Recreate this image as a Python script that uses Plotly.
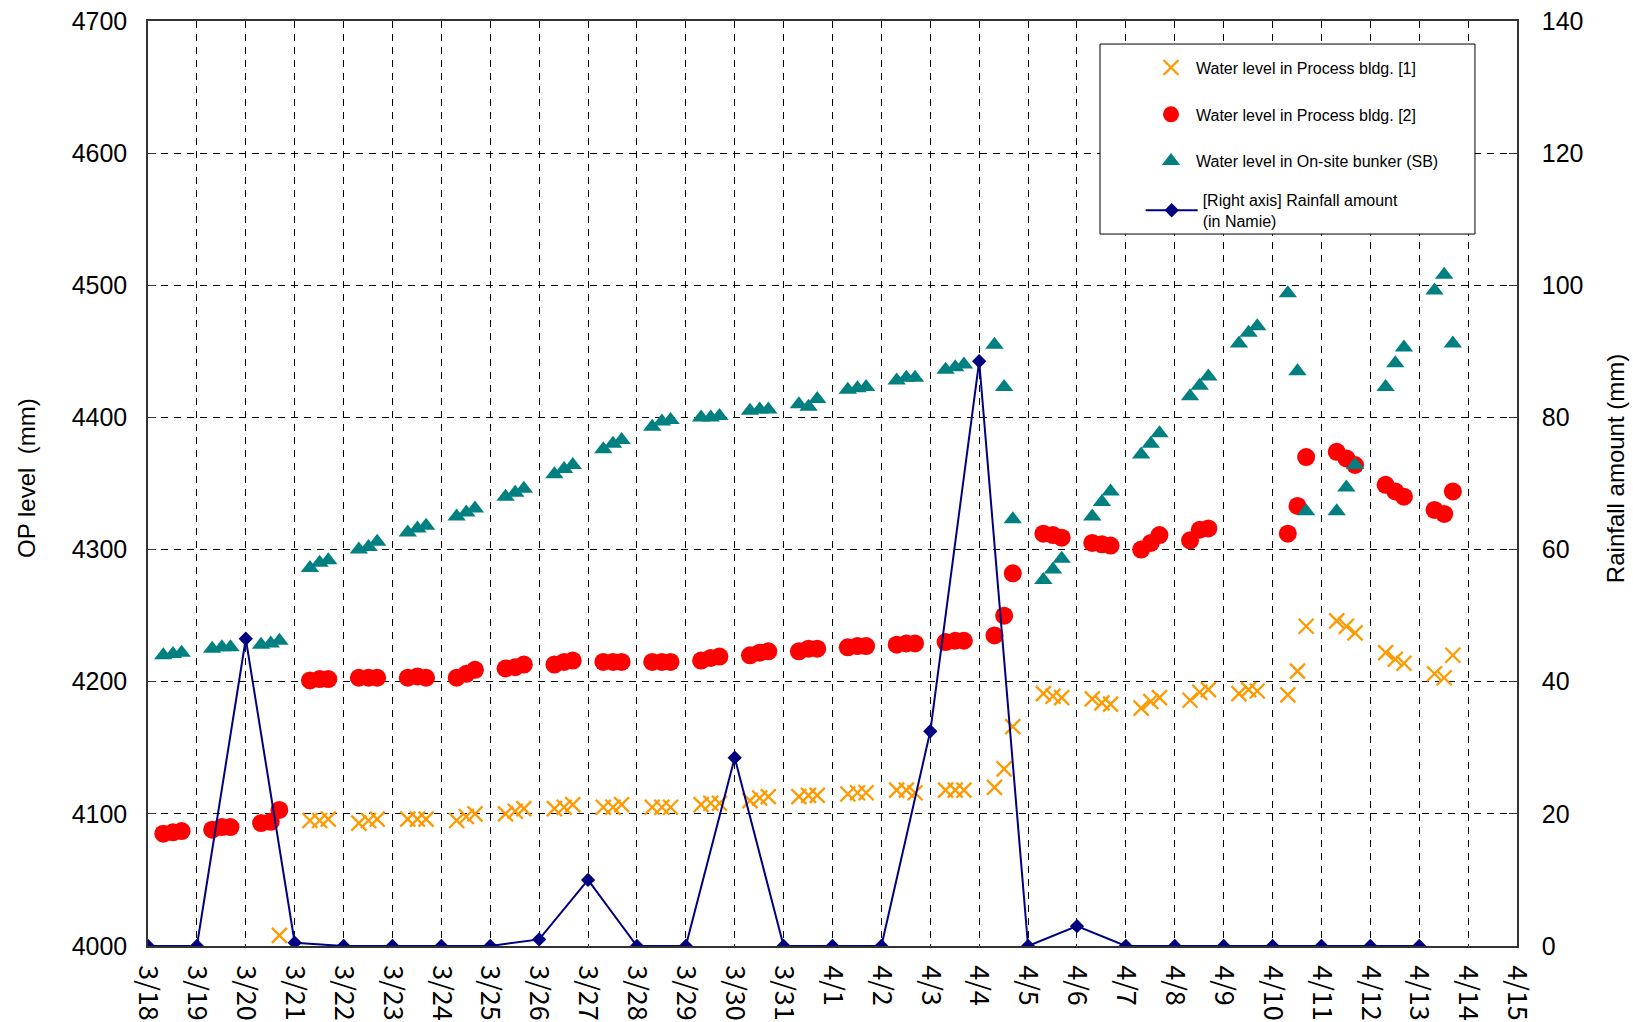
import plotly.graph_objects as go

# Measurement days and the three reading times used on each day
days = [
    "2011-03-18", "2011-03-19", "2011-03-20", "2011-03-21", "2011-03-22",
    "2011-03-23", "2011-03-24", "2011-03-25", "2011-03-26", "2011-03-27",
    "2011-03-28", "2011-03-29", "2011-03-30", "2011-03-31", "2011-04-01",
    "2011-04-02", "2011-04-03", "2011-04-04", "2011-04-05", "2011-04-06",
    "2011-04-07", "2011-04-08", "2011-04-09", "2011-04-10", "2011-04-11",
    "2011-04-12", "2011-04-13",
]
reading_times = ["07:30", "12:15", "16:30"]

# Water level in Process bldg. [1] (OP mm), three readings per day
level_bldg1 = [
    [None, None, None], [None, None, None], [None, None, 4008],
    [4095, 4095, 4096], [4093, 4095, 4096], [4096, 4096, 4096],
    [4095, 4098, 4100], [4100, 4102, 4104], [4104, 4105, 4107],
    [4105, 4105, 4107], [4105, 4105, 4105], [4107, 4108, 4108],
    [4110, 4112, 4113], [4113, 4114, 4114], [4115, 4116, 4116],
    [4118, 4118, 4116], [4118, 4118, 4118], [4120, 4134, 4166],
    [4191, 4189, 4188], [4187, 4184, 4183], [4180, 4185, 4188],
    [4186, 4192, 4194], [4191, 4194, 4193], [4190, 4208, 4242],
    [4246, 4242, 4237], [4222, 4217, 4214], [4206, 4203, 4220],
]

# Water level in Process bldg. [2] (OP mm)
level_bldg2 = [
    [4085, 4086, 4087], [4088, 4090, 4090], [4093, 4094, 4103],
    [4201, 4202, 4202], [4203, 4203, 4203], [4203, 4204, 4203],
    [4203, 4206, 4209], [4210, 4211, 4213], [4213, 4215, 4216],
    [4215, 4215, 4215], [4215, 4215, 4215], [4216, 4218, 4219],
    [4220, 4222, 4223], [4223, 4225, 4225], [4226, 4227, 4227],
    [4228, 4229, 4229], [4230, 4231, 4231], [4235, 4250, 4282],
    [4312, 4311, 4309], [4305, 4304, 4303], [4300, 4305, 4311],
    [4307, 4315, 4316], [None, None, None], [4312, 4333, 4370],
    [4374, 4369, 4364], [4349, 4344, 4340], [4330, 4327, 4344],
]

# Water level in On-site bunker (SB) (OP mm)
level_bunker = [
    [4220, 4221, 4222], [4225, 4226, 4226], [4228, 4229, 4231],
    [4286, 4290, 4292], [4300, 4302, 4306], [4313, 4316, 4318],
    [4325, 4328, 4331], [4340, 4343, 4346], [4357, 4361, 4364],
    [4376, 4380, 4383], [4393, 4397, 4398], [4400, 4400, 4401],
    [4405, 4406, 4406], [4410, 4408, 4414], [4421, 4422, 4423],
    [4428, 4430, 4430], [4436, 4438, 4440], [4455, 4423, 4323],
    [4277, 4285, 4293], [4325, 4336, 4344], [4372, 4380, 4388],
    [4416, 4424, 4431], [4456, 4464, 4469], [4494, 4435, 4329],
    [4329, 4347, 4364], [4423, 4441, 4453], [4496, 4508, 4456],
]

# Daily rainfall in Namie (mm), right axis
rainfall = [
    0, 0, 46.5, 0.5, 0, 0, 0, 0, 1, 10, 0, 0, 28.5, 0,
    0, 0, 32.5, 88.5, 0, 3, 0, 0, 0, 0, 0, 0, 0,
]

reading_x = [f"{d} {t}" for d in days for t in reading_times]


def flatten(rows):
    return [v for row in rows for v in row]


TEXT_FONT = "Liberation Sans, Arial, sans-serif"
GRID_DASH = "7px,6px"
LEGEND_FONT = dict(family=TEXT_FONT, size=16, color="#000000")
TITLE_FONT = dict(family=TEXT_FONT, size=24, color="#000000")

fig = go.Figure()

fig.add_trace(go.Scatter(
    x=reading_x, y=flatten(level_bldg1), mode="markers",
    name="Water level in Process bldg. [1]", legendgroup="a",
    marker=dict(symbol="x-thin", size=15, color="#FF9900",
                line=dict(color="#FF9900", width=2.3)),
))
fig.add_trace(go.Scatter(
    x=reading_x, y=flatten(level_bldg2), mode="markers",
    name="Water level in Process bldg. [2]", legendgroup="b",
    marker=dict(symbol="circle", size=18, color="#FF0000"),
))
fig.add_trace(go.Scatter(
    x=reading_x, y=flatten(level_bunker), mode="markers",
    name="Water level in On-site bunker (SB)", legendgroup="c",
    marker=dict(symbol="triangle-up", size=16, color="#008080"),
))
fig.add_trace(go.Scatter(
    x=days, y=rainfall, mode="lines+markers", yaxis="y2",
    name="[Right axis] Rainfall amount<br>(in Namie)", legend="legend2",
    line=dict(color="#000080", width=2),
    marker=dict(symbol="diamond", size=11, color="#000080"),
))

# Legend frame (white box that hides the grid behind the legend)
fig.add_shape(
    type="rect", xref="paper", yref="paper",
    x0=0.6954, x1=0.9693, y0=0.7697, y1=0.9751,
    line=dict(color="#000000", width=1), fillcolor="white", layer="above",
)

# Axis titles
fig.add_annotation(
    text="OP level  (mm)", textangle=-90, showarrow=False,
    xref="paper", yref="paper", x=-0.0884, y=0.506,
    xanchor="center", yanchor="middle", font=TITLE_FONT,
)
fig.add_annotation(
    text="Rainfall amount (mm)", textangle=-90, showarrow=False,
    xref="paper", yref="paper", x=1.0719, y=0.516,
    xanchor="center", yanchor="middle", font=TITLE_FONT,
)

fig.update_layout(
    width=1633, height=1022,
    margin=dict(l=148, r=116, t=21, b=76),
    paper_bgcolor="white", plot_bgcolor="white",
    font=dict(family=TEXT_FONT, color="#000000"),
    showlegend=True,
    legend=dict(
        x=0.729, y=0.968, xanchor="left", yanchor="top",
        bgcolor="rgba(0,0,0,0)", borderwidth=0,
        font=LEGEND_FONT, tracegroupgap=23, itemwidth=40,
    ),
    legend2=dict(
        x=0.7251, y=0.8249, xanchor="left", yanchor="top",
        bgcolor="rgba(0,0,0,0)", borderwidth=0,
        font=LEGEND_FONT, itemwidth=52,
    ),
    xaxis=dict(
        type="date", automargin=False,
        range=["2011-03-18", "2011-04-15"],
        tick0="2011-03-18", dtick=86400000,
        tickformat="%-m/%-d", tickangle=90,
        tickfont=dict(family="Noto Sans CJK JP", size=27),
        ticklabelstandoff=12,
        showgrid=True, gridcolor="#000000", gridwidth=1, griddash=GRID_DASH,
        showline=True, linecolor="#333333", linewidth=1.5, mirror=True,
        ticks="", zeroline=False,
    ),
    yaxis=dict(
        range=[4000, 4700], dtick=100, automargin=False,
        tickfont=dict(family=TEXT_FONT, size=25),
        ticks="inside", ticklen=8, tickcolor="#333333",
        ticklabelstandoff=14,
        showgrid=True, gridcolor="#000000", gridwidth=1, griddash=GRID_DASH,
        showline=True, linecolor="#333333", linewidth=1.5,
        zeroline=False,
    ),
    yaxis2=dict(
        overlaying="y", side="right",
        range=[0, 140], dtick=20, automargin=False,
        tickfont=dict(family=TEXT_FONT, size=25),
        ticks="inside", ticklen=8, tickcolor="#333333",
        ticklabelstandoff=18,
        showgrid=False, zeroline=False,
        showline=True, linecolor="#333333", linewidth=1.5,
    ),
)

fig.write_html("out.html")
